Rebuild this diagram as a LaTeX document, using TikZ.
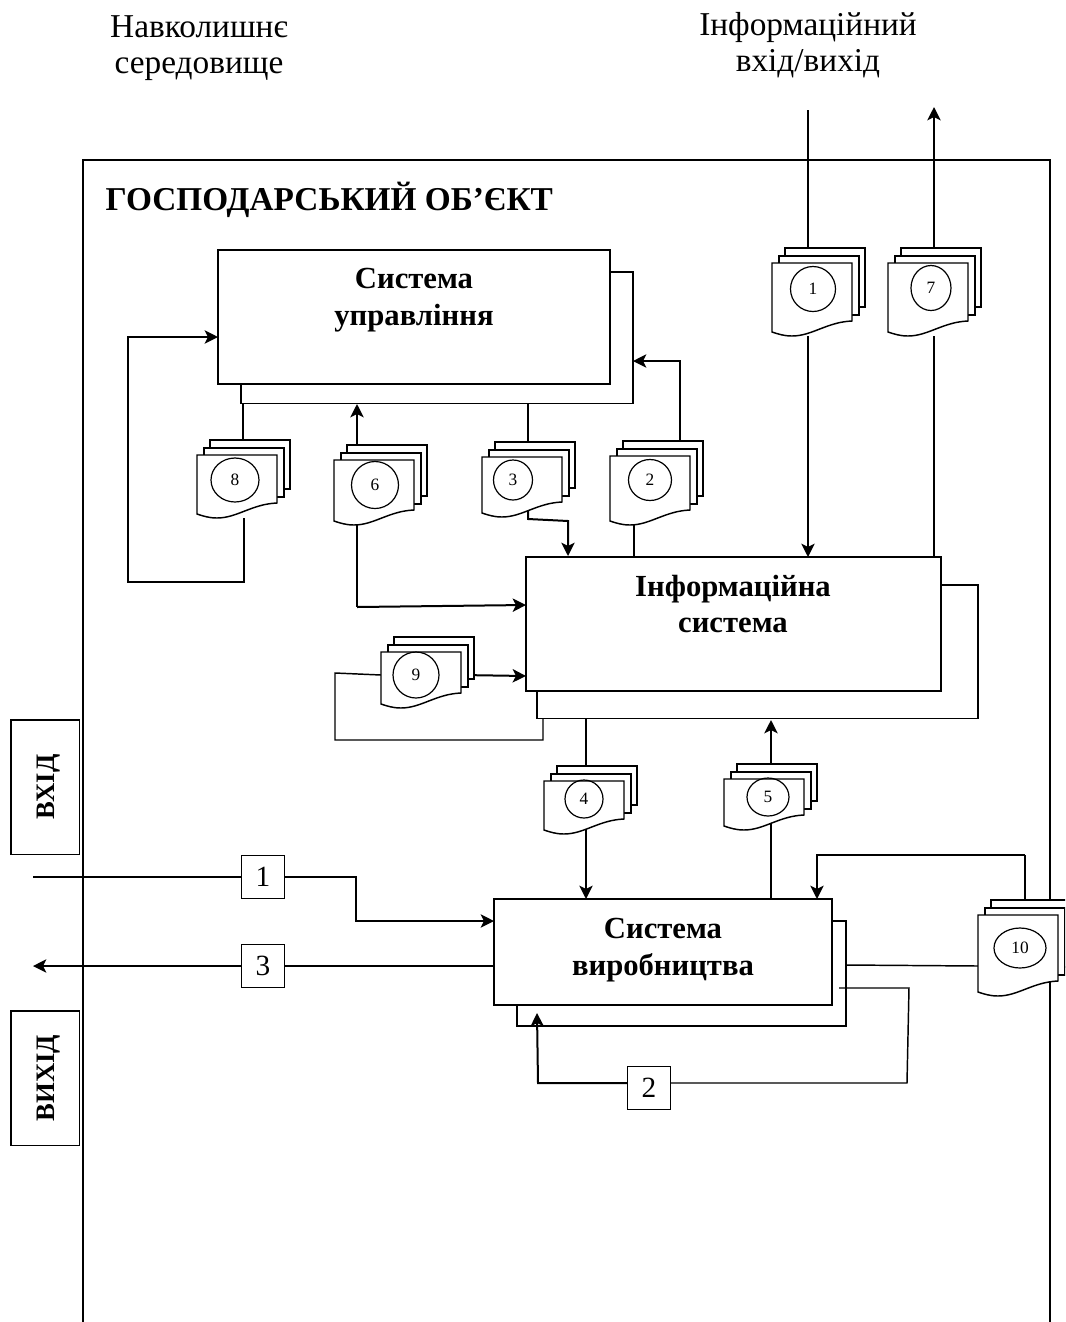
\documentclass[tikz,border=0pt]{standalone}
\usepackage{fontspec}
\setmainfont{Liberation Serif}
\usetikzlibrary{arrows.meta,backgrounds,shapes.geometric}
\tikzset{
  sysbox/.style={draw, fill=white, line width=1.2pt, anchor=north west, inner sep=0pt, outer sep=0pt},
  numbox/.style={draw, fill=white, line width=0.9pt, minimum size=32.5pt, inner sep=0pt, outer sep=0pt, font=\fontsize{22}{24}\selectfont},
  sidebox/.style={draw, fill=white, line width=0.9pt, anchor=north west, minimum width=51.5pt, minimum height=101pt, inner sep=0pt, outer sep=0pt},
  doclabel/.style={draw, ellipse, line width=0.9pt, inner sep=0pt, font=\fontsize{13}{14}\selectfont},
  docfront/.style={anchor=north west, minimum width=60pt, inner sep=0pt, outer sep=0pt},
  sheet/.style={draw, fill=white, line width=1.1pt},
  plaintext/.style={align=center, font=\fontsize{25}{27}\selectfont},
  boldtext/.style={align=center, font=\fontsize{23}{27.75}\selectfont\bfseries},
  sidetext/.style={rotate=90, font=\fontsize{20}{22}\selectfont\bfseries},
  link/.style={line width=1.1pt},
  linkto/.style={line width=1.1pt, -{Stealth[length=10pt,width=10pt,inset=2.5pt]}},
  heavyto/.style={line width=1.5pt, -{Stealth[length=10pt,width=10pt,inset=2.5pt]}}
}
% document stack: name, x, y, height, number, circle x, y, w, h
\newcommand{\docstack}[9]{
  \draw[sheet] (#2+13,#3-15) rectangle (#2+93,#3+#4-29);
  \draw[sheet] (#2+7,#3-7) rectangle (#2+87,#3+#4-21);
  \draw[sheet] (#2,#3) -- (#2+80,#3) -- (#2+80,#3+#4-15)
    .. controls (#2+55,#3+#4-14) and (#2+40,#3+#4) .. (#2+20,#3+#4)
    .. controls (#2+12,#3+#4) and (#2+6,#3+#4-2) .. (#2,#3+#4-4) -- cycle;
  \node[docfront, minimum height=#4*0.75pt] (#1) at (#2,#3) {};
  \node[doclabel, minimum width=#8*0.75pt, minimum height=#9*0.75pt] (#1num) at (#6,#7) {#5};
}
\begin{document}
\begin{tikzpicture}[x=0.75pt, y=-0.75pt]
\useasboundingbox (0,0) rectangle (1065,1322);
\clip (0,0) rectangle (1065,1322);

% === Headings ===
\node[plaintext] (envname) at (199,48) {Навколишнє\\середовище};
\node[plaintext] (ioname) at (808,45) {Інформаційний\\вхід/вихід};
\node[anchor=west, font=\fontsize{25}{27}\selectfont\bfseries] (objname) at (101,200) {ГОСПОДАРСЬКИЙ ОБ’ЄКТ};

% === Systems ===
\node[sysbox, minimum width=294pt, minimum height=98.5pt] (ctrlback) at (241,272) {};
\node[sysbox, minimum width=294pt, minimum height=100.5pt] (ctrl) at (218,250) {};
\node[boldtext] (ctrlname) at (414,300) {Система\\управління};
\node[sysbox, minimum width=330.75pt, minimum height=100pt] (infoback) at (537,585) {};
\node[sysbox, minimum width=311.25pt, minimum height=100.5pt] (info) at (526,557) {};
\node[boldtext] (infoname) at (733,604) {Інформаційна\\система};
\node[sysbox, minimum width=246.75pt, minimum height=78.75pt] (prodback) at (517,921) {};
\node[sysbox, minimum width=253.5pt, minimum height=79.5pt] (prod) at (494,899) {};
\node[boldtext] (prodname) at (663,950) {Система\\виробництва};

% === Input and output ===
\node[sidebox] (inbox) at (11,720) {};
\node[sidetext] (inname) at (49,787) {ВХІД};
\node[sidebox] (outbox) at (11,1011) {};
\node[sidetext] (outname) at (49,1078) {ВИХІД};
\node[numbox] (flow1) at (263,877) {1};
\node[numbox] (flow3) at (263,966) {3};
\node[numbox] (flow2) at (649,1088) {2};

% === Documents ===
\docstack{doc1}{772}{263}{73}{1}{813}{289}{45}{45}
\docstack{doc7}{888}{263}{73}{7}{931}{288}{40}{45}
\docstack{doc8}{197}{455}{63}{8}{235}{480}{48}{44}
\docstack{doc6}{334}{460}{65}{6}{375}{485}{47}{47}
\docstack{doc3}{482}{457}{60}{3}{513}{480}{39}{40}
\docstack{doc2}{610}{456}{69}{2}{650}{480}{43}{41}
\docstack{doc9}{381}{652}{56}{9}{416}{675}{46}{46}
\docstack{doc4}{544}{781}{53}{4}{584}{799}{38}{38}
\docstack{doc5}{724}{779}{51}{5}{768}{797}{42}{38}
\docstack{doc10}{978}{915}{81}{10}{1020}{948}{52}{40}

% Free ends
\coordinate (iotop) at (808,110);
\coordinate (ioout) at (934,107);
\coordinate (envin) at (33,877);
\coordinate (envout) at (33,966);
\coordinate (backx8) at (128,582);
\coordinate (loop9) at (335,740);
\coordinate (loopr) at (909,988);
\coordinate (loopb) at (907,1083);
\coordinate (top10) at (1025,855);

% === Connectors and frame, under the boxes ===
\begin{scope}[on background layer]
\draw[line width=1.1pt] (83,1322) -- (83,160) -- (1050,160) -- (1050,1322);
% top of the object
\draw[link] (iotop) -- (iotop |- doc1.north);
\draw[heavyto] (iotop |- doc1.south) -- (iotop |- info.north);
\draw[heavyto] (ioout |- doc7.north) -- (ioout);
\draw[link] (ioout |- info.north) -- (ioout |- doc7.south);
% control system
\draw[link] (243,403) -- (243,455);
\draw[heavyto] (244,518) |- (backx8) |- (ctrl.west |- 0,337);
\draw[heavyto] (357,470) -- (357,404);
\draw[line width=1.5pt] (357,520) -- (357,607);
\draw[heavyto] (357,607) -- (info.west |- 0,605);
\draw[link] (528,403) -- (528,460);
\draw[heavyto] (528,510) -- (528,519) -- (568,521) -- (568,556);
\draw[linkto] (680,460) |- (ctrlback.east |- 0,361);
\draw[link] (634,510) -- (634,557);
% information system
\draw[link] (doc9.west |- 0,675) -- (335,673) -- (loop9) -| (543,719);
\draw[heavyto] (doc9.east |- 0,675) -- (info.west |- 0,676);
\draw[link] (586,719) -- (586,790);
\draw[heavyto] (586,825) -- (586,899);
\draw[link] (771,899) -- (771,800);
\draw[heavyto] (771,790) -- (771,720);
% production system
\draw[linkto] (envin) -- (flow1) -- (356,877) |- (prod.west |- 0,921);
\draw[link] (prod.west |- flow3) -- (flow3);
\draw[linkto] (flow3) -- (envout);
\draw[link] (prodback.east |- 0,965) -- (doc10.west |- 0,966);
\draw[link] (1025,920) |- (top10);
\draw[heavyto] (top10) -| (817,899);
\end{scope}
% this loop runs over the back sheet
\draw[link] (839,988) -- (loopr) -- (loopb) -- (flow2.east |- loopb);
\draw[heavyto] (flow2.west |- loopb) -- (538,1083) -- (537,1013);
\end{tikzpicture}
\end{document}
